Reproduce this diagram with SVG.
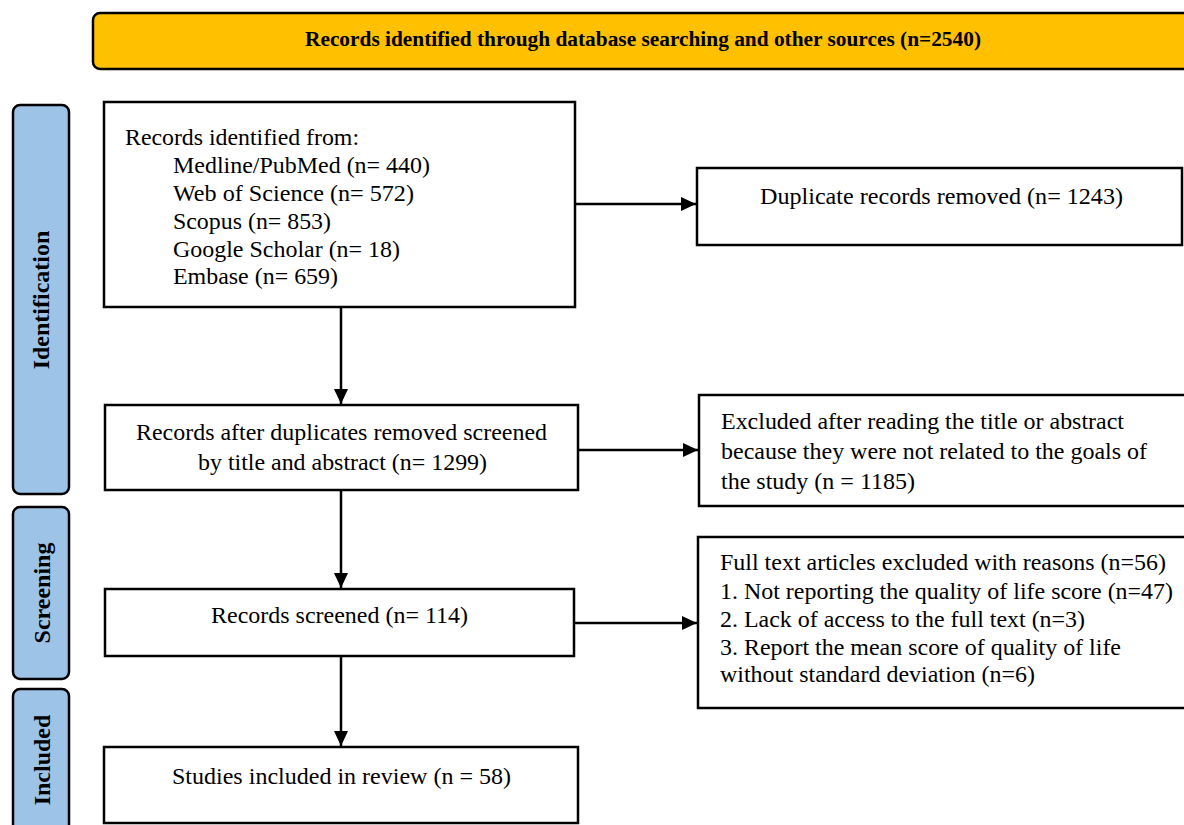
<svg xmlns="http://www.w3.org/2000/svg" width="1184" height="825" viewBox="0 0 1184 825">
<defs>
<style>
.bg{fill:#ffffff}
.box{fill:#ffffff;stroke:#000;stroke-width:2.5}
.banner{fill:#FFC000;stroke:#000;stroke-width:2.5}
.phase{fill:#9DC3E6;stroke:#000;stroke-width:2.5}
.t{font-family:"Liberation Serif","Times New Roman",serif;font-size:24px;fill:#000}
.b{font-family:"Liberation Serif","Times New Roman",serif;font-weight:bold;fill:#000}
.c{text-anchor:middle}
.conn line{stroke:#000;stroke-width:2.5;fill:none}
</style>
<marker id="ah" viewBox="0 0 15 14" refX="15" refY="7" markerWidth="15" markerHeight="14" markerUnits="userSpaceOnUse" orient="auto">
<path d="M0,0 L15,7 L0,14 z" fill="#000"/>
</marker>
</defs>
<rect class="bg" x="0" y="0" width="1184" height="825"/>

<g id="banner">
<rect class="banner" x="93" y="13" width="1120" height="56" rx="7"/>
<text class="b" x="305" y="46" font-size="20" textLength="676" lengthAdjust="spacingAndGlyphs">Records identified through database searching and other sources (n=2540)</text>
</g>

<g id="phase-identification">
<rect class="phase" x="13" y="105" width="56" height="389" rx="7"/>
<text class="b c" font-size="24" transform="translate(49,300) rotate(-90)">Identification</text>
</g>
<g id="phase-screening">
<rect class="phase" x="13" y="507" width="56" height="172" rx="7"/>
<text class="b c" font-size="24" transform="translate(50,593) rotate(-90)">Screening</text>
</g>
<g id="phase-included">
<rect class="phase" x="13" y="689" width="56" height="150" rx="7"/>
<text class="b c" font-size="24" transform="translate(50,760) rotate(-90)">Included</text>
</g>

<g id="records-identified">
<rect class="box" x="104" y="102" width="471" height="205"/>
<text class="t" x="125" y="145" textLength="234" lengthAdjust="spacingAndGlyphs">Records identified from:</text>
<text class="t" x="173" y="173" textLength="257" lengthAdjust="spacingAndGlyphs">Medline/PubMed (n= 440)</text>
<text class="t" x="173" y="201" textLength="241" lengthAdjust="spacingAndGlyphs">Web of Science (n= 572)</text>
<text class="t" x="173" y="229" textLength="158" lengthAdjust="spacingAndGlyphs">Scopus (n= 853)</text>
<text class="t" x="173" y="257" textLength="227" lengthAdjust="spacingAndGlyphs">Google Scholar (n= 18)</text>
<text class="t" x="173" y="284" textLength="165" lengthAdjust="spacingAndGlyphs">Embase (n= 659)</text>
</g>

<g id="duplicates-removed">
<rect class="box" x="697" y="168" width="485" height="77"/>
<text class="t" x="760" y="204" textLength="363" lengthAdjust="spacingAndGlyphs">Duplicate records removed (n= 1243)</text>
</g>

<g id="records-after-duplicates">
<rect class="box" x="105" y="405" width="473" height="85"/>
<text class="t" x="136" y="440" textLength="411" lengthAdjust="spacingAndGlyphs">Records after duplicates removed screened</text>
<text class="t" x="198" y="470" textLength="289" lengthAdjust="spacingAndGlyphs">by title and abstract (n= 1299)</text>
</g>

<g id="excluded-title-abstract">
<rect class="box" x="699" y="395" width="500" height="111"/>
<text class="t" x="721" y="429" textLength="403" lengthAdjust="spacingAndGlyphs">Excluded after reading the title or abstract</text>
<text class="t" x="721" y="459" textLength="426" lengthAdjust="spacingAndGlyphs">because they were not related to the goals of</text>
<text class="t" x="721" y="489" textLength="194" lengthAdjust="spacingAndGlyphs">the study (n = 1185)</text>
</g>

<g id="records-screened">
<rect class="box" x="105" y="589" width="469" height="67"/>
<text class="t" x="211" y="623" textLength="257" lengthAdjust="spacingAndGlyphs">Records screened (n= 114)</text>
</g>

<g id="full-text-excluded">
<rect class="box" x="698" y="537" width="500" height="171"/>
<text class="t" x="720" y="570" textLength="446" lengthAdjust="spacingAndGlyphs">Full text articles excluded with reasons (n=56)</text>
<text class="t" x="720" y="599" textLength="453" lengthAdjust="spacingAndGlyphs">1. Not reporting the quality of life score (n=47)</text>
<text class="t" x="720" y="627" textLength="365" lengthAdjust="spacingAndGlyphs">2. Lack of access to the full text (n=3)</text>
<text class="t" x="720" y="655" textLength="401" lengthAdjust="spacingAndGlyphs">3. Report the mean score of quality of life</text>
<text class="t" x="720" y="682" textLength="315" lengthAdjust="spacingAndGlyphs">without standard deviation (n=6)</text>
</g>

<g id="studies-included">
<rect class="box" x="104" y="747" width="474" height="76"/>
<text class="t" x="172" y="784" textLength="339" lengthAdjust="spacingAndGlyphs">Studies included in review (n = 58)</text>
</g>

<g id="connectors" class="conn">
<line x1="576" y1="204" x2="696" y2="204" marker-end="url(#ah)"/>
<line x1="341" y1="308" x2="341" y2="404" marker-end="url(#ah)"/>
<line x1="579" y1="450" x2="698" y2="450" marker-end="url(#ah)"/>
<line x1="341" y1="491" x2="341" y2="588" marker-end="url(#ah)"/>
<line x1="575" y1="623" x2="697" y2="623" marker-end="url(#ah)"/>
<line x1="341" y1="657" x2="341" y2="746" marker-end="url(#ah)"/>
</g>
</svg>
